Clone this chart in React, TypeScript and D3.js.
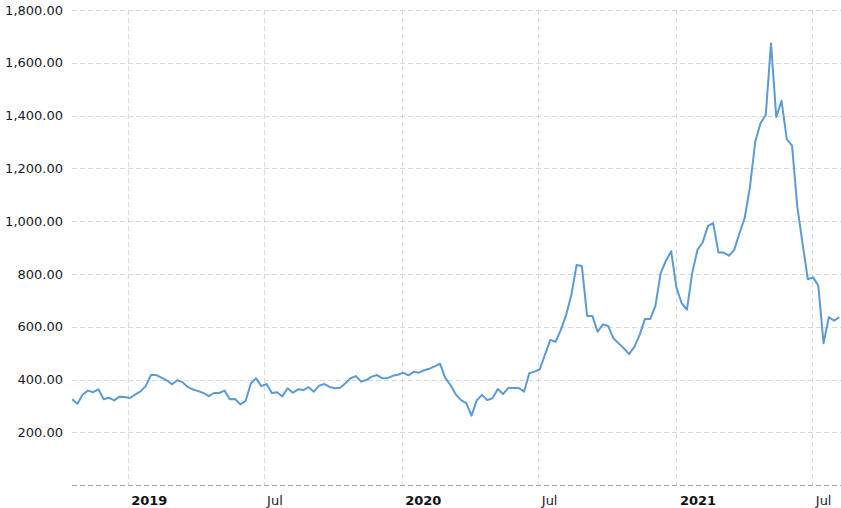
import React from "react";
import * as d3 from "d3";

const startDate = Date.UTC(2018, 9, 19);
const values: number[] = [
  325, 308, 343, 358, 352, 363, 325, 331, 321, 335,
  334, 330, 343, 355, 375, 417, 417, 407, 397, 382,
  397, 390, 372, 362, 356, 349, 337, 349, 349, 358,
  325, 326, 306, 318, 385, 405, 375, 383, 349, 352,
  336, 367, 350, 363, 360, 371, 354, 377, 383, 372,
  367, 369, 386, 405, 413, 392, 398, 411, 417, 405,
  405, 414, 418, 426, 416, 429, 426, 435, 441, 450,
  460, 406, 379, 344, 322, 311, 263, 321, 342, 322,
  329, 364, 345, 368, 368, 368, 354, 424, 430, 439,
  495, 550, 543, 588, 644, 720, 834, 830, 641, 641,
  581, 609, 603, 556, 537, 518, 496, 524, 569, 629,
  629, 679, 803, 850, 886, 748, 689, 665, 803, 891,
  920, 982, 992, 881, 881, 869, 891, 954, 1013, 1131,
  1301, 1371, 1402, 1674, 1394, 1456, 1311, 1286, 1055, 916,
  780, 787, 756, 537, 636, 623, 636,
];

const yTicks: number[] = [200, 400, 600, 800, 1000, 1200, 1400, 1600, 1800];
const xTickDates: number[] = [
  Date.UTC(2019, 0, 1),
  Date.UTC(2019, 6, 1),
  Date.UTC(2020, 0, 1),
  Date.UTC(2020, 6, 1),
  Date.UTC(2021, 0, 1),
  Date.UTC(2021, 6, 1),
];
const xTickLabels: string[] = ["2019", "Jul", "2020", "Jul", "2021", "Jul"];
const xTickBold: boolean[] = [true, false, true, false, true, false];

const W = 841;
const H = 508;
const left = 72;
const right = 841;
const top = 10;
const bottom = 485.1;

export default function App() {
  const data = values.map((v, i) => ({
    date: new Date(startDate + i * 7 * 86400000),
    value: v,
  }));

  const x = d3
    .scaleUtc()
    .domain([new Date(Date.UTC(2019, 0, 1)), new Date(Date.UTC(2021, 6, 1))])
    .range([127.7, 812.3]);
  const y = d3.scaleLinear().domain([0, 1800]).range([bottom, top]);

  const line = d3
    .line<{ date: Date; value: number }>()
    .x((d) => x(d.date))
    .y((d) => y(d.value));

  const fmt = d3.format(",.2f");

  return (
    <div style={{ position: "absolute", left: 0, top: 0 }}>
      <svg width={W} height={H} style={{ display: "block", background: "#fff" }}>
        {yTicks.map((t) => (
          <line
            key={"h" + t}
            x1={left}
            x2={right}
            y1={Math.round(y(t)) + 0.5}
            y2={Math.round(y(t)) + 0.5}
            stroke="#d9d9d9"
            strokeDasharray="5,3"
          />
        ))}
        {xTickDates.map((d, i) => (
          <line
            key={"v" + i}
            x1={Math.round(x(new Date(d))) + 0.5}
            x2={Math.round(x(new Date(d))) + 0.5}
            y1={top}
            y2={bottom}
            stroke="#d9d9d9"
            strokeDasharray="5,3"
          />
        ))}
        <line
          x1={left}
          x2={right}
          y1={Math.round(bottom) + 0.5}
          y2={Math.round(bottom) + 0.5}
          stroke="#a6a6a6"
          strokeDasharray="5,3"
        />
        {yTicks.map((t) => (
          <text
            key={"yl" + t}
            x={63}
            y={y(t)}
            dy="0.36em"
            textAnchor="end"
            fontFamily="'DejaVu Sans', Verdana, sans-serif"
            fontSize={13}
            fill="#1a1a2a"
          >
            {fmt(t)}
          </text>
        ))}
        {xTickDates.map((d, i) => (
          <text
            key={"xl" + i}
            x={x(new Date(d)) + 3.5}
            y={505}
            textAnchor="start"
            fontFamily="'DejaVu Sans', Verdana, sans-serif"
            fontSize={13}
            fontWeight={xTickBold[i] ? "bold" : "normal"}
            fill={xTickBold[i] ? "#111" : "#1a1a2a"}
          >
            {xTickLabels[i]}
          </text>
        ))}
        <path
          d={line(data) || ""}
          fill="none"
          stroke="#5b9bd5"
          strokeWidth={2}
          strokeLinejoin="round"
        />
      </svg>
    </div>
  );
}
